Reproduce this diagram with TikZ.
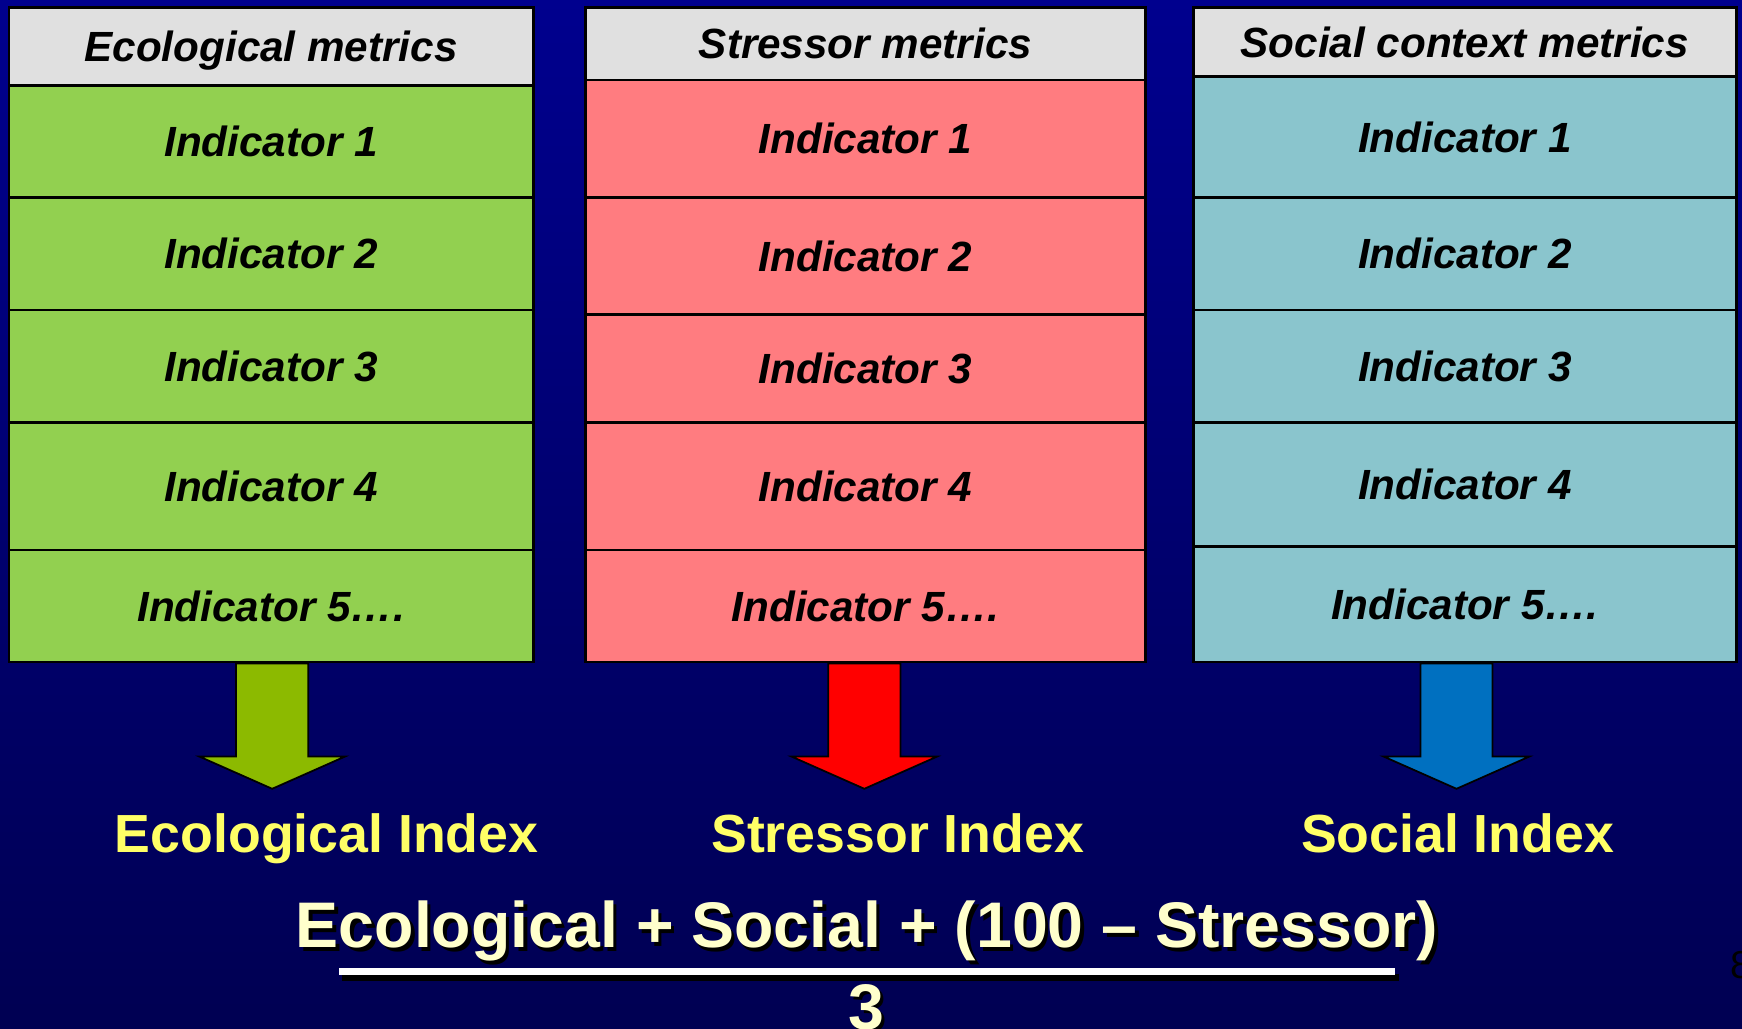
\documentclass[tikz,border=0pt]{standalone}
\usepackage{fontspec}
\setmainfont{Liberation Sans}
\usetikzlibrary{calc}

\definecolor{bgtop}{RGB}{0,0,142}
\definecolor{bgbot}{RGB}{0,0,82}
\definecolor{hdr}{RGB}{224,224,224}
\definecolor{ecofill}{RGB}{146,208,80}
\definecolor{strfill}{RGB}{255,124,128}
\definecolor{socfill}{RGB}{138,197,205}
\definecolor{ecoarrow}{RGB}{140,186,0}
\definecolor{strarrow}{RGB}{255,0,0}
\definecolor{socarrow}{RGB}{0,112,192}
\definecolor{idxyellow}{RGB}{255,255,102}
\definecolor{formyellow}{RGB}{255,255,204}

% one table cell: name, fill, x1, y1, x2, y2, text
\newcommand\cellat[7]{%
  \node[cellbox, fill=#2, minimum width={(#5-#3)*1pt}, minimum height={(#6-#4)*1pt}]
    (#1) at ({(#3+#5)/2},{(#4+#6)/2}) {#7};}

% block arrow: fill, top point, tip point
\newcommand\blockarrow[3]{%
  \draw[arrowbox, fill=#1] let \p1=(#2), \p2=(#3) in
    (\x2-32.5pt,\y1) -- (\x2+32.5pt,\y1) -- (\x2+32.5pt,\y2+29pt) --
    (\x2+65.5pt,\y2+29pt) -- (\x2,\y2) -- (\x2-65.5pt,\y2+29pt) --
    (\x2-32.5pt,\y2+29pt) -- cycle;}

\begin{document}
\begin{tikzpicture}[x=1pt,y=-1pt,
  cellbox/.style={draw=black, line width=2.4pt, inner sep=0pt,
    text height=27.2pt, text depth=0pt, align=center,
    font=\fontsize{38}{40}\selectfont\bfseries\itshape},
  arrowbox/.style={draw=black, line width=1.6pt, line join=miter},
  idxlabel/.style={inner sep=0pt, text height=34.6pt, text depth=0pt,
    text=idxyellow, font=\fontsize{48.3}{52}\selectfont\bfseries},
  formula/.style={inner sep=0pt, text height=41.5pt, text depth=0pt,
    text=formyellow, font=\fontsize{58}{62}\selectfont\bfseries},
  formshadow/.style={formula, text=black}]

\useasboundingbox (0,0) rectangle (1568,926);
\clip (0,0) rectangle (1568,926);
\fill[top color=bgtop, bottom color=bgbot] (0,0) rectangle (1568,926);

% Ecological column
\cellat{eh}{hdr}{8}{7}{480}{77}{Ecological metrics}
\cellat{e1}{ecofill}{8}{77}{480}{178}{Indicator 1}
\cellat{e2}{ecofill}{8}{178}{480}{279}{Indicator 2}
\cellat{e3}{ecofill}{8}{279}{480}{380}{Indicator 3}
\cellat{e4}{ecofill}{8}{380}{480}{495}{Indicator 4}
\cellat{e5}{ecofill}{8}{495}{480}{596}{Indicator 5….}

% Stressor column
\cellat{sh}{hdr}{527}{7}{1031}{72}{Stressor metrics}
\cellat{s1}{strfill}{527}{72}{1031}{178}{Indicator 1}
\cellat{s2}{strfill}{527}{178}{1031}{283}{Indicator 2}
\cellat{s3}{strfill}{527}{283}{1031}{380}{Indicator 3}
\cellat{s4}{strfill}{527}{380}{1031}{495}{Indicator 4}
\cellat{s5}{strfill}{527}{495}{1031}{596}{Indicator 5….}

% Social context column
\cellat{ch}{hdr}{1074}{7}{1563}{69}{Social context metrics}
\cellat{c1}{socfill}{1074}{69}{1563}{178}{Indicator 1}
\cellat{c2}{socfill}{1074}{178}{1563}{279}{Indicator 2}
\cellat{c3}{socfill}{1074}{279}{1563}{380}{Indicator 3}
\cellat{c4}{socfill}{1074}{380}{1563}{492}{Indicator 4}
\cellat{c5}{socfill}{1074}{492}{1563}{596}{Indicator 5….}

% index labels
\node[idxlabel] (ei) at (294,750) {Ecological Index};
\node[idxlabel] (si) at (808,750) {Stressor Index};
\node[idxlabel] (ci) at (1312,750) {Social Index};

% arrow tips
\coordinate (et) at (245,710);
\coordinate (st) at (778,710);
\coordinate (ct) at (1311,710);

\blockarrow{ecoarrow}{et |- e5.south}{et}
\blockarrow{strarrow}{st |- s5.south}{st}
\blockarrow{socarrow}{ct |- c5.south}{ct}

% combined index formula
\node[formshadow] (nums) at (783.5,835.5) {Ecological + Social + (100 – Stressor)};
\node[formula] (num) at (780.5,832.5) {Ecological + Social + (100 – Stressor)};
\fill[black] (308,877) rectangle (1259,883);
\fill[white] (305,871) rectangle (1256,878);
\node[formshadow] (dens) at (782.5,908.5) {3};
\node[formula] (den) at (780,906) {3};

% slide number at the edge
\node[inner sep=0pt, font=\fontsize{35}{38}\selectfont] (pg) at (1567,869) {8};
\end{tikzpicture}
\end{document}
